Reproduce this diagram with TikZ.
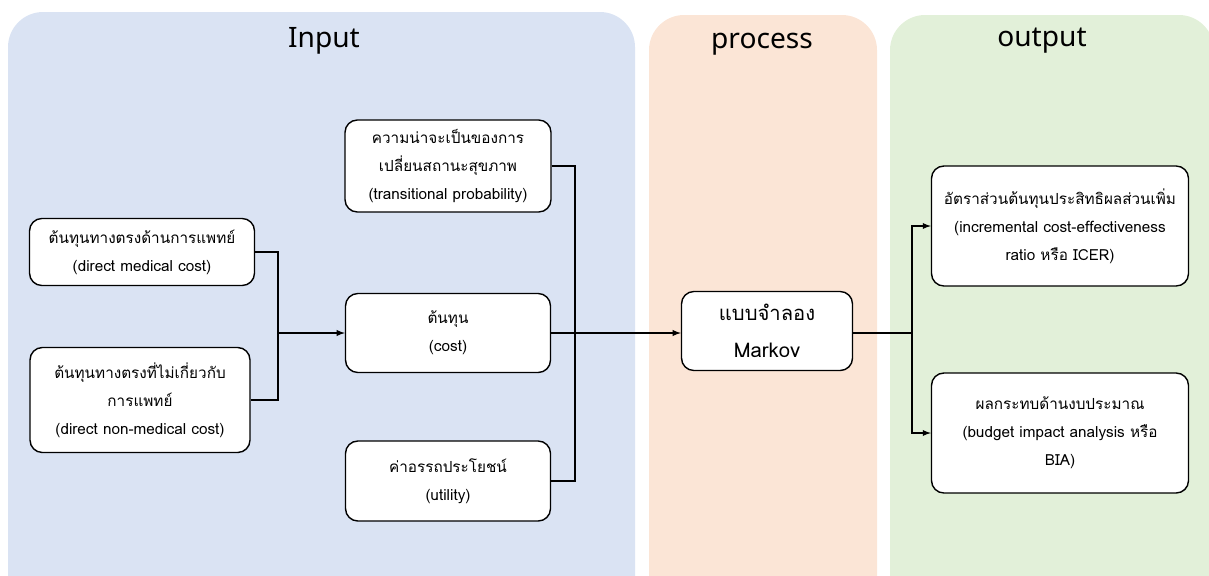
\documentclass[tikz,border=0pt]{standalone}
\usepackage{fontspec}
\usepackage{xcolor}
\usepackage{tikz}
\usetikzlibrary{arrows, positioning}
\setmainfont{Noto Sans}
\newfontfamily\thaifont[Script=Thai]{Loma}
\definecolor{inblue}{HTML}{DAE3F3}
\definecolor{procorange}{HTML}{FBE5D6}
\definecolor{outgreen}{HTML}{E2F0D9}
\tikzstyle{arrow} = [semithick,->,>=latex]
\tikzstyle{link}  = [semithick]
\tikzset{every node/.style={align=center}}

\begin{document}
\begin{tikzpicture}[x=0.02cm, y=-0.02cm,
    title/.style={font=\fontsize{16}{19}\selectfont},
    box/.style={rectangle, rounded corners=7pt, draw, line width=0.8pt, fill=white,
                inner sep=0pt, font=\thaifont\fontsize{8.7}{16}\selectfont}
]
  \clip (0,0) rectangle (1209,575);
  % --- panels ---
  \fill[inblue, rounded corners=20pt]     (8,620)   rectangle (635,12);
  \fill[procorange, rounded corners=20pt] (649,620) rectangle (877,15);
  \fill[outgreen, rounded corners=20pt]   (890,620) rectangle (1214,15);
  \node[title] (TIN)  at (324,41)  {Input};
  \node[title] (TPR)  at (762,44)  {process};
  \node[title] (TOUT) at (1042,41) {output};

  % --- Input ---
  \node[box, minimum width=4.5cm,  minimum height=1.34cm] (DMC)  at (142,252) {ต้นทุนทางตรงด้านการแพทย์\\(direct medical cost)};
  \node[box, minimum width=4.4cm,  minimum height=2.1cm]  (NMC)  at (140,400) {ต้นทุนทางตรงที่ไม่เกี่ยวกับ\\การแพทย์\\(direct non-medical cost)};
  \node[box, minimum width=4.12cm, minimum height=1.84cm] (TP)   at (448,166) {ความน่าจะเป็นของการ\\เปลี่ยนสถานะสุขภาพ\\(transitional probability)};
  \node[box, minimum width=4.1cm,  minimum height=1.58cm] (COST) at (448,333) {ต้นทุน\\(cost)};
  \node[box, minimum width=4.1cm,  minimum height=1.6cm]  (UTIL) at (448,481) {ค่าอรรถประโยชน์\\(utility)};

  % --- process ---
  \node[box, minimum width=3.42cm, minimum height=1.58cm,
        font=\thaifont\fontsize{11.5}{21}\selectfont] (MKV) at (767,331) {แบบจำลอง\\Markov};

  % --- output ---
  \node[box, minimum width=5.14cm, minimum height=2.4cm] (ICER) at (1060,226) {อัตราส่วนต้นทุนประสิทธิผลส่วนเพิ่ม\\(incremental cost-effectiveness\\ratio หรือ ICER)};
  \node[box, minimum width=5.14cm, minimum height=2.4cm] (BIA)  at (1060,433) {ผลกระทบด้านงบประมาณ\\(budget impact analysis หรือ\\BIA)};

  % --- connectors ---
  \coordinate (JL) at (278,333);
  \coordinate (JR) at (575,333);
  \coordinate (JO) at (912,333);
  \draw[link]  (DMC.east) -| (JL);
  \draw[link]  (NMC.east) -| (JL);
  \draw[arrow] (JL) -- (COST.west);
  \draw[link]  (TP.east) -| (JR);
  \draw[link]  (UTIL.east) -| (JR);
  \draw[arrow] (COST.east) -- (COST.east -| MKV.west);
  \draw[link]  (MKV.east |- JO) -- (JO);
  \draw[arrow] (JO) |- (ICER.west);
  \draw[arrow] (JO) |- (BIA.west);
\end{tikzpicture}
\end{document}
